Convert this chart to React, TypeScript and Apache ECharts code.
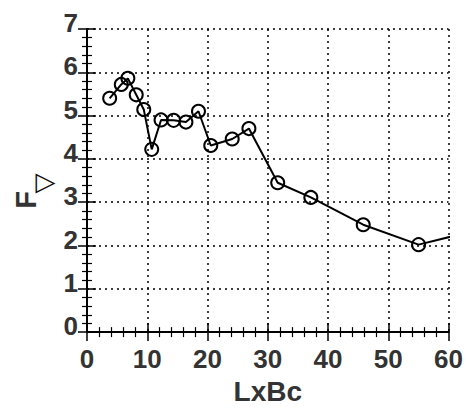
import React, { useEffect, useRef } from "react";
import * as echarts from "echarts";

const xValues = [3.76, 5.69, 6.78, 8.17, 9.42, 10.74, 12.29, 14.37, 16.42, 18.5, 20.54, 24.1, 26.87, 31.65, 37.15, 45.84, 55.03];
const yValues = [5.4, 5.72, 5.86, 5.48, 5.14, 4.22, 4.9, 4.89, 4.85, 5.1, 4.31, 4.46, 4.7, 3.45, 3.11, 2.48, 2.02];
// the curve continues past the right edge of the frame
const tailPoint = [62, 2.26];
const xTitle = "LxBc";
const yTitleMain = "F";
const yTitleSub = "▽";

const FONT = "Liberation Sans, Arial, sans-serif";

export default function App() {
  const ref = useRef<HTMLDivElement>(null);
  useEffect(() => {
    document.body.style.margin = "0";
    const chart = echarts.init(ref.current!, null, { renderer: "svg" });
    const data: any[] = xValues.map((x, i) => [x, yValues[i]]);
    data.push({ value: tailPoint, symbol: "none" });
    const grid = { left: 87, right: 15, top: 29, bottom: 65 };
    const axisLine = { show: true, lineStyle: { color: "#000", width: 2 } };
    const tick = { show: true, inside: true, length: 9, lineStyle: { color: "#000", width: 1.5 } };
    const minor = { show: true, splitNumber: 5, length: 5, lineStyle: { color: "#000", width: 1.2 } };
    const grid_line = { show: true, lineStyle: { color: "#000", width: 1.5, type: [2, 4] as any } };
    const labelStyle = { fontFamily: FONT, fontSize: 26, fontWeight: "bold" as any, color: "#333" };
    chart.setOption({
      animation: false,
      grid,
      xAxis: [
        {
          type: "value", min: 0, max: 60, interval: 10, position: "bottom",
          axisLine, axisTick: tick, minorTick: minor, splitLine: grid_line,
          axisLabel: { ...labelStyle, margin: 14 },
          name: xTitle, nameLocation: "middle", nameGap: 41,
          nameTextStyle: { fontFamily: FONT, fontSize: 28, fontWeight: "bold", color: "#333" },
        },
        {
          type: "value", min: 0, max: 60, interval: 10, position: "top",
          axisLine, axisTick: tick, minorTick: minor, splitLine: { show: false },
          axisLabel: { show: false },
        },
      ],
      yAxis: [
        {
          type: "value", min: 0, max: 7, interval: 1, position: "left",
          axisLine, axisTick: tick, minorTick: minor, splitLine: grid_line,
          axisLabel: { ...labelStyle, margin: 9, verticalAlign: "bottom", lineHeight: 12 },
        },
        {
          type: "value", min: 0, max: 7, interval: 1, position: "right",
          axisLine, axisTick: tick, minorTick: minor, splitLine: { show: false },
          axisLabel: { show: false },
        },
      ],
      graphic: [
        {
          type: "text", x: 26, y: 200, rotation: Math.PI / 2,
          style: { text: yTitleMain, fontFamily: FONT, fontSize: 29, fontWeight: "bold", fill: "#333", align: "center", verticalAlign: "middle" },
        },
        {
          type: "text", x: 43, y: 183.5, rotation: Math.PI / 2,
          style: { text: yTitleSub, fontFamily: "DejaVu Sans", fontSize: 26, fill: "#111", align: "center", verticalAlign: "middle" },
        },
      ],
      series: [
        {
          type: "line",
          data,
          clip: true,
          symbol: "circle",
          symbolSize: 13,
          itemStyle: { color: "transparent", borderColor: "#000", borderWidth: 2 },
          lineStyle: { color: "#000", width: 2 },
        },
      ],
    });
    return () => chart.dispose();
  }, []);
  return <div ref={ref} style={{ width: 466, height: 410 }} />;
}
